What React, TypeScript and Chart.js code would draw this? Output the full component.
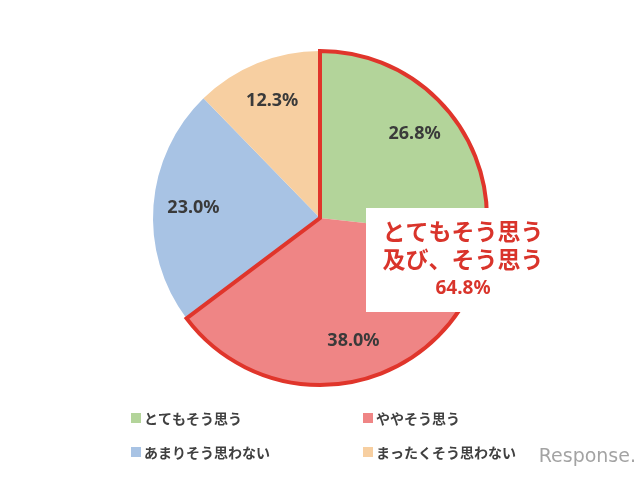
import React, { useEffect, useRef } from "react";
import { Chart, registerables } from "chart.js";

Chart.register(...registerables);

const categories = ["とてもそう思う", "ややそう思う", "あまりそう思わない", "まったくそう思わない"];
const values = [26.8, 38.0, 23.0, 12.3];
const colors = ["#b3d49a", "#ef8585", "#a8c3e4", "#f7cfa1"];
const calloutLines = ["とてもそう思う", "及び、そう思う"];
const calloutValue = "64.8%";
const watermark = "Response.";

const JP = "'Noto Sans CJK JP', 'Noto Sans', sans-serif";

const overlayPlugin = {
  id: "overlay",
  afterDatasetsDraw(chart: any) {
    const ctx: CanvasRenderingContext2D = chart.ctx;
    const arcs = chart.getDatasetMeta(0).data as any[];
    if (!arcs.length) return;
    const a0 = arcs[0];
    const a1 = arcs[1];
    const cx = a0.x;
    const cy = a0.y;
    const R = a0.outerRadius;

    // red outline around first two slices
    ctx.save();
    ctx.beginPath();
    ctx.moveTo(cx, cy);
    ctx.arc(cx, cy, R, a0.startAngle, a1.endAngle);
    ctx.closePath();
    ctx.lineWidth = 4;
    ctx.strokeStyle = "#e0352b";
    ctx.lineJoin = "miter";
    ctx.stroke();

    // value labels
    ctx.font = "bold 18px 'Noto Sans', sans-serif";
    ctx.fillStyle = "#3a3a3a";
    ctx.textAlign = "center";
    ctx.textBaseline = "middle";
    arcs.forEach((arc: any, i: number) => {
      const mid = (arc.startAngle + arc.endAngle) / 2;
      const r = R * 0.76;
      ctx.fillText(values[i].toFixed(1) + "%", cx + Math.cos(mid) * r, cy + Math.sin(mid) * r);
    });

    // callout box
    const bx = 366, by = 208, bw = 196, bh = 104;
    ctx.fillStyle = "#ffffff";
    ctx.fillRect(bx, by, bw, bh);
    ctx.fillStyle = "#d9342b";
    ctx.textAlign = "center";
    ctx.textBaseline = "middle";
    ctx.font = `bold 23px ${JP}`;
    const tx = 463;
    ctx.fillText(calloutLines[0], tx, 231);
    ctx.fillText(calloutLines[1], tx, 259);
    ctx.font = "bold 19px 'Noto Sans', sans-serif";
    ctx.fillText(calloutValue, tx, 289);

    // legend
    ctx.textAlign = "left";
    ctx.textBaseline = "middle";
    ctx.font = `bold 14px ${JP}`;
    const colX = [131, 363];
    const rowY = [418, 452];
    categories.forEach((c, i) => {
      const x = colX[i % 2];
      const y = rowY[Math.floor(i / 2)];
      ctx.fillStyle = colors[i];
      ctx.fillRect(x, y - 5, 10, 10);
      ctx.fillStyle = "#404040";
      ctx.fillText(c, x + 13, y + 1);
    });

    // watermark
    ctx.font = "19px 'DejaVu Sans', sans-serif";
    ctx.fillStyle = "rgba(140,140,140,0.8)";
    ctx.textAlign = "right";
    ctx.textBaseline = "alphabetic";
    ctx.fillText(watermark, 636, 462);
    ctx.restore();
  },
};

export default function App() {
  const ref = useRef<HTMLCanvasElement>(null);
  useEffect(() => {
    if (!ref.current) return;
    const chart = new Chart(ref.current, {
      type: "pie",
      data: {
        labels: categories,
        datasets: [
          {
            data: values,
            backgroundColor: colors,
            borderWidth: 0,
          },
        ],
      },
      options: {
        responsive: false,
        maintainAspectRatio: false,
        animation: false,
        layout: { padding: { top: 51, bottom: 95, left: 100, right: 100 } },
        plugins: {
          legend: { display: false },
          tooltip: { enabled: false },
        },
      },
      plugins: [overlayPlugin],
    });
    return () => chart.destroy();
  }, []);
  return (
    <div style={{ position: "fixed", left: 0, top: 0, width: 640, height: 480, background: "#fff" }}>
      <canvas ref={ref} width={640} height={480} style={{ width: 640, height: 480 }} />
    </div>
  );
}
